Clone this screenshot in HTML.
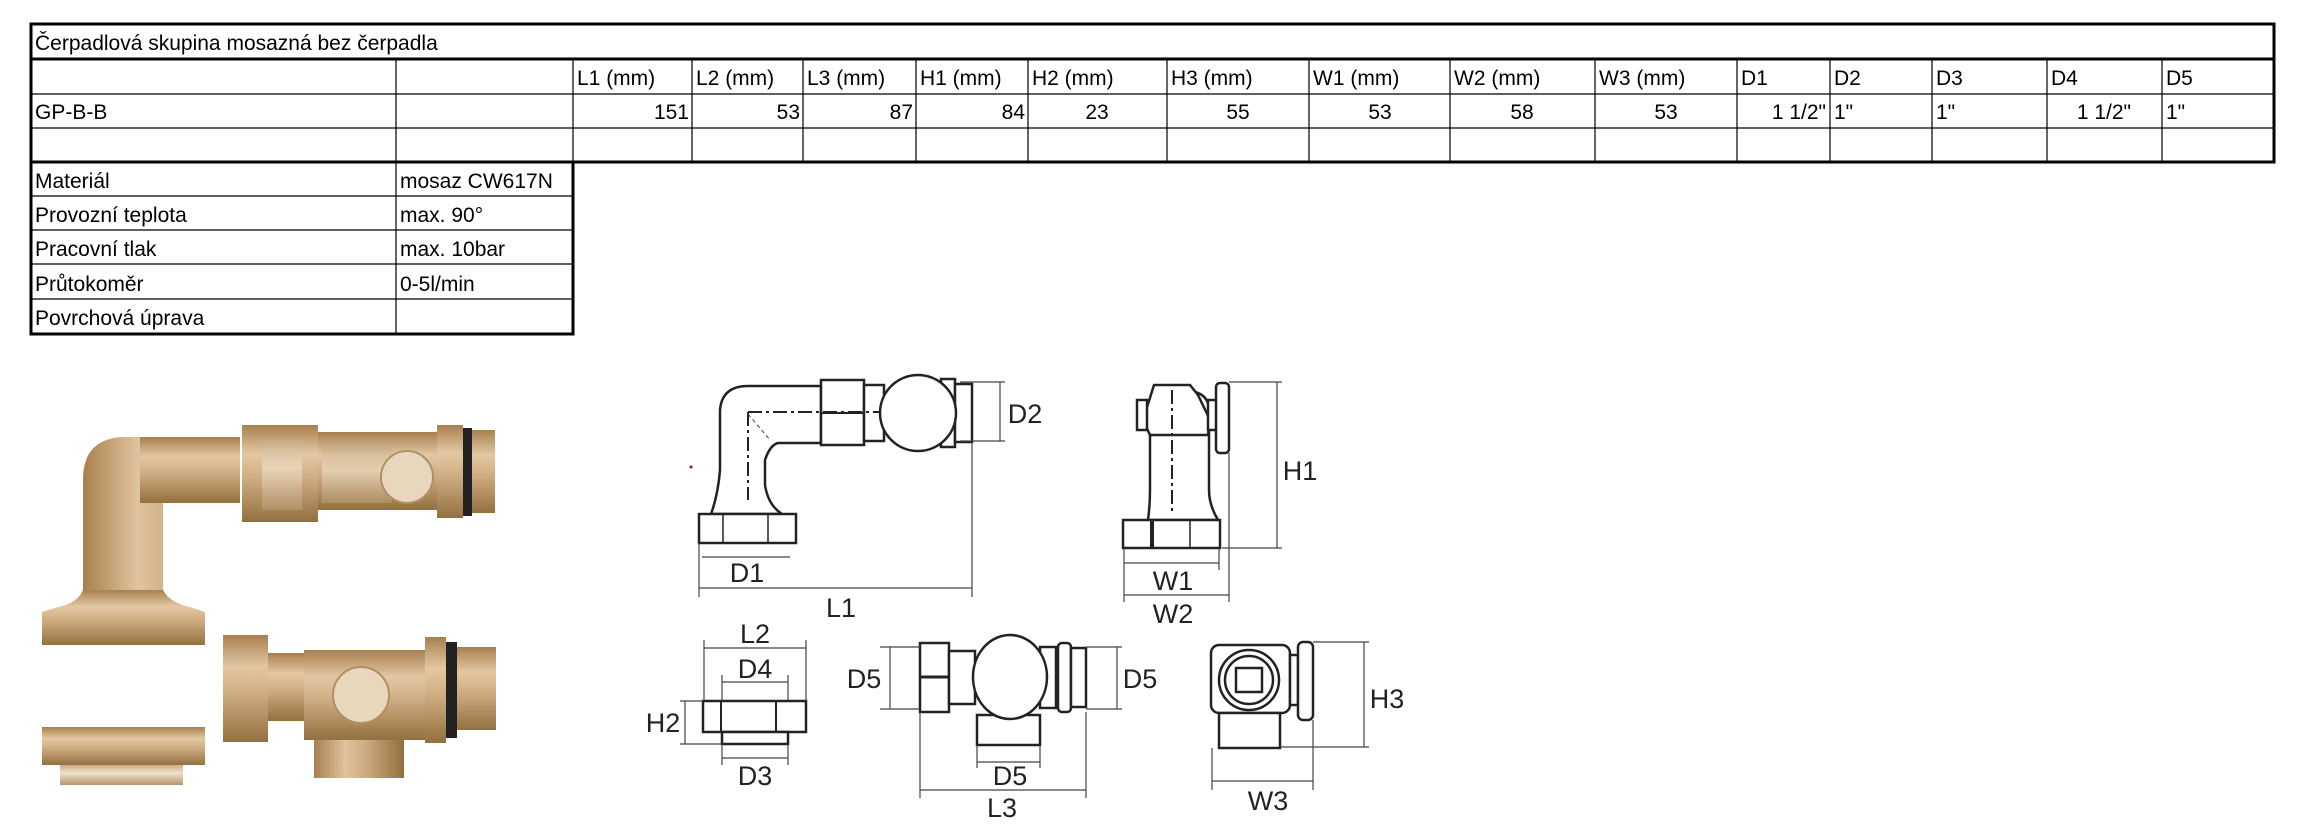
<!DOCTYPE html>
<html><head><meta charset="utf-8"><style>
html,body{margin:0;padding:0;background:#fff;width:2299px;height:824px;overflow:hidden}
svg{display:block}
.t{font-family:"Liberation Sans Narrow","Liberation Sans",sans-serif;font-size:21px;fill:#000}
.l{font-family:"Liberation Sans",sans-serif;font-size:27px;fill:#222}
.d{stroke:#222;stroke-width:2.5;fill:#fff}
.dm{stroke:#444;stroke-width:1.2;fill:none}
.cl{stroke:#222;stroke-width:2;stroke-dasharray:14 4 3 4;fill:none}
</style></head><body>
<svg width="2299" height="824" viewBox="0 0 2299 824" xmlns="http://www.w3.org/2000/svg">
<defs>
<linearGradient id="bv" x1="0" y1="0" x2="0" y2="1">
<stop offset="0" stop-color="#a8804f"/><stop offset="0.3" stop-color="#e3c8a2"/><stop offset="0.55" stop-color="#cfad82"/><stop offset="1" stop-color="#93703f"/></linearGradient>
<linearGradient id="bh" x1="0" y1="0" x2="1" y2="0">
<stop offset="0" stop-color="#a8804f"/><stop offset="0.35" stop-color="#e0c49e"/><stop offset="0.6" stop-color="#caa87c"/><stop offset="1" stop-color="#93703f"/></linearGradient>
<linearGradient id="lt" x1="0" y1="0" x2="0" y2="1">
<stop offset="0" stop-color="#c8ab86"/><stop offset="0.4" stop-color="#efe0c8"/><stop offset="1" stop-color="#b59670"/></linearGradient>
</defs>

<!-- main table -->
<g fill="none" stroke="#000">
<rect x="31" y="24" width="2243" height="138" stroke-width="3"/>
<line x1="31" y1="59" x2="2274" y2="59" stroke-width="3"/>
<line x1="31" y1="94" x2="2274" y2="94" stroke-width="1.2"/>
<line x1="31" y1="128" x2="2274" y2="128" stroke-width="1.2"/>
<g stroke-width="1.2">
<line x1="396" y1="59" x2="396" y2="162"/><line x1="573" y1="59" x2="573" y2="162"/>
<line x1="692" y1="59" x2="692" y2="162"/><line x1="803" y1="59" x2="803" y2="162"/>
<line x1="916" y1="59" x2="916" y2="162"/><line x1="1028" y1="59" x2="1028" y2="162"/>
<line x1="1167" y1="59" x2="1167" y2="162"/><line x1="1309" y1="59" x2="1309" y2="162"/>
<line x1="1450" y1="59" x2="1450" y2="162"/><line x1="1595" y1="59" x2="1595" y2="162"/>
<line x1="1737" y1="59" x2="1737" y2="162"/><line x1="1830" y1="59" x2="1830" y2="162"/>
<line x1="1932" y1="59" x2="1932" y2="162"/><line x1="2047" y1="59" x2="2047" y2="162"/>
<line x1="2162" y1="59" x2="2162" y2="162"/>
</g>
<rect x="31" y="162" width="542" height="172" stroke-width="3"/>
<g stroke-width="1.2">
<line x1="31" y1="196" x2="573" y2="196"/><line x1="31" y1="230" x2="573" y2="230"/>
<line x1="31" y1="264" x2="573" y2="264"/><line x1="31" y1="299" x2="573" y2="299"/>
<line x1="396" y1="162" x2="396" y2="334"/>
</g>
</g>
<g class="t">
<text x="35" y="50">Čerpadlová skupina mosazná bez čerpadla</text>
<text x="577" y="85">L1 (mm)</text><text x="696" y="85">L2 (mm)</text><text x="807" y="85">L3 (mm)</text>
<text x="920" y="85">H1 (mm)</text><text x="1032" y="85">H2 (mm)</text><text x="1171" y="85">H3 (mm)</text>
<text x="1313" y="85">W1 (mm)</text><text x="1454" y="85">W2 (mm)</text><text x="1599" y="85">W3 (mm)</text>
<text x="1741" y="85">D1</text><text x="1834" y="85">D2</text><text x="1936" y="85">D3</text>
<text x="2051" y="85">D4</text><text x="2166" y="85">D5</text>
<text x="35" y="119">GP-B-B</text>
<text x="689" y="119" text-anchor="end">151</text><text x="800" y="119" text-anchor="end">53</text>
<text x="913" y="119" text-anchor="end">87</text><text x="1025" y="119" text-anchor="end">84</text>
<text x="1097" y="119" text-anchor="middle">23</text><text x="1238" y="119" text-anchor="middle">55</text>
<text x="1380" y="119" text-anchor="middle">53</text><text x="1522" y="119" text-anchor="middle">58</text>
<text x="1666" y="119" text-anchor="middle">53</text>
<text x="1826" y="119" text-anchor="end">1 1/2"</text><text x="1834" y="119">1"</text>
<text x="1936" y="119">1"</text><text x="2131" y="119" text-anchor="end">1 1/2"</text>
<text x="2166" y="119">1"</text>
<text x="35" y="188">Materiál</text><text x="400" y="188">mosaz CW617N</text>
<text x="35" y="222">Provozní teplota</text><text x="400" y="222">max. 90°</text>
<text x="35" y="256">Pracovní tlak</text><text x="400" y="256">max. 10bar</text>
<text x="35" y="291">Průtokoměr</text><text x="400" y="291">0-5l/min</text>
<text x="35" y="325">Povrchová úprava</text>
</g>

<!-- photo -->
<g>
<path d="M83 592 L83 480 Q83 437 126 437 L240 437 L240 503 L163 503 L163 592 Z" fill="url(#bh)"/>
<rect x="140" y="437" width="100" height="66" fill="url(#bv)"/>
<path d="M83 590 L163 590 Q170 603 190 607 L205 612 L205 645 L42 645 L42 612 L58 607 Q78 603 83 590 Z" fill="url(#bv)"/>
<rect x="242" y="425" width="76" height="97" fill="url(#bv)"/>
<rect x="262" y="440" width="40" height="70" fill="url(#lt)" opacity="0.7"/>
<rect x="318" y="432" width="119" height="78" fill="url(#bv)"/>
<rect x="322" y="448" width="70" height="55" fill="url(#lt)" opacity="0.6"/>
<circle cx="407" cy="477" r="26" fill="#e8d7bd" stroke="#b08f66" stroke-width="2"/>
<rect x="437" y="425" width="26" height="93" fill="url(#bv)"/>
<rect x="463" y="428" width="9" height="88" fill="#222"/>
<rect x="472" y="430" width="23" height="83" fill="url(#bv)"/>
<rect x="223" y="635" width="45" height="107" fill="url(#bv)"/>
<rect x="268" y="653" width="36" height="68" fill="url(#bv)"/>
<rect x="304" y="650" width="121" height="90" fill="url(#bv)"/>
<circle cx="361" cy="695" r="28" fill="#e8d7bd" stroke="#b08f66" stroke-width="2"/>
<rect x="314" y="740" width="90" height="38" fill="url(#bh)"/>
<rect x="425" y="637" width="21" height="106" fill="url(#bv)"/>
<rect x="446" y="642" width="11" height="96" fill="#222"/>
<rect x="457" y="647" width="39" height="83" fill="url(#bv)"/>
<rect x="42" y="727" width="163" height="38" fill="url(#bv)"/>
<rect x="60" y="765" width="123" height="20" fill="url(#lt)"/>
</g>

<!-- drawing 1: elbow front -->
<g>
<path class="d" d="M711 514 Q718 495 720 470 L720 410 Q722 386 748 386 L821 386 L821 443 L778 443 Q770 445 765 460 L765 485 Q768 505 782 514 Z"/>
<rect class="d" x="699" y="514" width="97" height="29"/>
<line x1="723" y1="514" x2="723" y2="543" stroke="#222" stroke-width="1.5"/>
<line x1="768" y1="514" x2="768" y2="543" stroke="#222" stroke-width="1.5"/>
<rect class="d" x="821" y="380" width="43" height="65"/>
<line x1="821" y1="413" x2="864" y2="413" stroke="#222" stroke-width="2"/>
<rect class="d" x="864" y="385" width="20" height="56"/>
<rect class="d" x="941" y="379" width="14" height="68"/>
<rect class="d" x="955" y="384" width="17" height="58"/>
<circle class="d" cx="918" cy="413" r="38" stroke-width="3"/>
<path class="cl" d="M748 412 L880 412 M748 412 L748 500"/>
<line x1="748" y1="414" x2="770" y2="440" stroke="#444" stroke-dasharray="4 3"/>
<line x1="1000" y1="382" x2="1000" y2="441" class="dm"/>
<line x1="960" y1="382" x2="1005" y2="382" class="dm"/><line x1="960" y1="441" x2="1005" y2="441" class="dm"/>
<line x1="702" y1="557" x2="790" y2="557" class="dm"/>
<line x1="699" y1="543" x2="699" y2="597" class="dm"/>
<line x1="972" y1="443" x2="972" y2="597" class="dm"/>
<line x1="699" y1="588" x2="972" y2="588" class="dm"/>
</g>

<!-- drawing 2: side -->
<g>
<path class="d" d="M1148 520 Q1150 505 1150 490 L1150 410 Q1150 390 1180 390 Q1209 390 1209 410 L1209 490 Q1209 505 1218 520 Z"/>
<path class="d" d="M1154 385 L1190 385 L1198 395 L1210 420 L1208 435 L1150 435 L1143 420 Z" fill="none"/>
<rect class="d" x="1137" y="400" width="10" height="30"/>
<rect class="d" x="1208" y="400" width="10" height="30"/>
<rect class="d" x="1216" y="383" width="13" height="70" rx="4"/>
<rect class="d" x="1123" y="520" width="97" height="28"/>
<line x1="1152" y1="520" x2="1152" y2="548" stroke="#222" stroke-width="4"/>
<line x1="1190" y1="520" x2="1190" y2="548" stroke="#222" stroke-width="1.5"/>
<line x1="1172" y1="390" x2="1172" y2="515" class="cl"/>
<line x1="1229" y1="382" x2="1282" y2="382" class="dm"/><line x1="1222" y1="548" x2="1282" y2="548" class="dm"/>
<line x1="1277" y1="382" x2="1277" y2="548" class="dm"/>
<line x1="1124" y1="548" x2="1124" y2="602" class="dm"/><line x1="1219" y1="548" x2="1219" y2="570" class="dm"/>
<line x1="1229" y1="453" x2="1229" y2="602" class="dm"/>
<line x1="1124" y1="563" x2="1219" y2="563" class="dm"/>
<line x1="1124" y1="595" x2="1229" y2="595" class="dm"/>
</g>

<!-- drawing 3: small nut -->
<g>
<rect class="d" x="703" y="701" width="103" height="31"/>
<line x1="721" y1="701" x2="721" y2="732" stroke="#222" stroke-width="2"/>
<line x1="776" y1="701" x2="776" y2="732" stroke="#222" stroke-width="2"/>
<rect class="d" x="722" y="732" width="66" height="12"/>
<line x1="704" y1="648" x2="806" y2="648" class="dm"/>
<line x1="704" y1="640" x2="704" y2="701" class="dm"/><line x1="806" y1="640" x2="806" y2="701" class="dm"/>
<line x1="722" y1="682" x2="788" y2="682" class="dm"/>
<line x1="722" y1="675" x2="722" y2="701" class="dm"/><line x1="788" y1="675" x2="788" y2="701" class="dm"/>
<line x1="685" y1="701" x2="685" y2="744" class="dm"/>
<line x1="680" y1="701" x2="703" y2="701" class="dm"/><line x1="680" y1="744" x2="722" y2="744" class="dm"/>
<line x1="722" y1="744" x2="722" y2="765" class="dm"/><line x1="788" y1="744" x2="788" y2="765" class="dm"/>
<line x1="722" y1="758" x2="788" y2="758" class="dm"/>
</g>

<!-- drawing 4: tee -->
<g>
<rect class="d" x="920" y="643" width="29" height="69"/>
<line x1="920" y1="677" x2="949" y2="677" stroke="#222" stroke-width="3"/>
<rect class="d" x="949" y="651" width="26" height="53"/>
<rect class="d" x="977" y="715" width="63" height="30"/>
<rect class="d" x="1040" y="647" width="16" height="61"/>
<rect class="d" x="1058" y="643" width="13" height="69" rx="4"/>
<rect class="d" x="1071" y="648" width="15" height="59"/>
<ellipse class="d" cx="1010" cy="677" rx="37" ry="42" stroke-width="3"/>
<line x1="890" y1="647" x2="890" y2="709" class="dm"/>
<line x1="880" y1="647" x2="920" y2="647" class="dm"/><line x1="880" y1="709" x2="920" y2="709" class="dm"/>
<line x1="1117" y1="647" x2="1117" y2="709" class="dm"/>
<line x1="1086" y1="647" x2="1122" y2="647" class="dm"/><line x1="1086" y1="709" x2="1122" y2="709" class="dm"/>
<line x1="977" y1="745" x2="977" y2="768" class="dm"/><line x1="1040" y1="745" x2="1040" y2="768" class="dm"/>
<line x1="977" y1="762" x2="1040" y2="762" class="dm"/>
<line x1="920" y1="712" x2="920" y2="798" class="dm"/><line x1="1086" y1="712" x2="1086" y2="798" class="dm"/>
<line x1="920" y1="790" x2="1086" y2="790" class="dm"/>
</g>

<!-- drawing 5: side tee -->
<g>
<rect class="d" x="1211" y="645" width="79" height="68" rx="8"/>
<circle class="d" cx="1249" cy="680" r="30"/>
<circle class="d" cx="1249" cy="680" r="24"/>
<rect class="d" x="1236" y="668" width="26" height="24"/>
<rect class="d" x="1219" y="713" width="61" height="35"/>
<rect class="d" x="1290" y="655" width="8" height="50"/>
<rect class="d" x="1298" y="642" width="15" height="78" rx="5"/>
<line x1="1313" y1="642" x2="1369" y2="642" class="dm"/><line x1="1280" y1="747" x2="1369" y2="747" class="dm"/>
<line x1="1364" y1="642" x2="1364" y2="747" class="dm"/>
<line x1="1212" y1="748" x2="1212" y2="790" class="dm"/><line x1="1313" y1="720" x2="1313" y2="790" class="dm"/>
<line x1="1212" y1="781" x2="1313" y2="781" class="dm"/>
</g>
<circle cx="691" cy="467" r="1.5" fill="#c00"/>

<g class="l" text-anchor="middle">
<text x="1025" y="423">D2</text><text x="1300" y="480">H1</text>
<text x="747" y="582">D1</text><text x="841" y="617">L1</text>
<text x="1173" y="590">W1</text><text x="1173" y="623">W2</text>
<text x="755" y="643">L2</text><text x="755" y="678">D4</text>
<text x="663" y="732">H2</text><text x="755" y="785">D3</text>
<text x="864" y="688">D5</text><text x="1140" y="688">D5</text>
<text x="1010" y="785">D5</text><text x="1002" y="817">L3</text>
<text x="1387" y="708">H3</text><text x="1268" y="810">W3</text>
</g>
</svg>
</body></html>
